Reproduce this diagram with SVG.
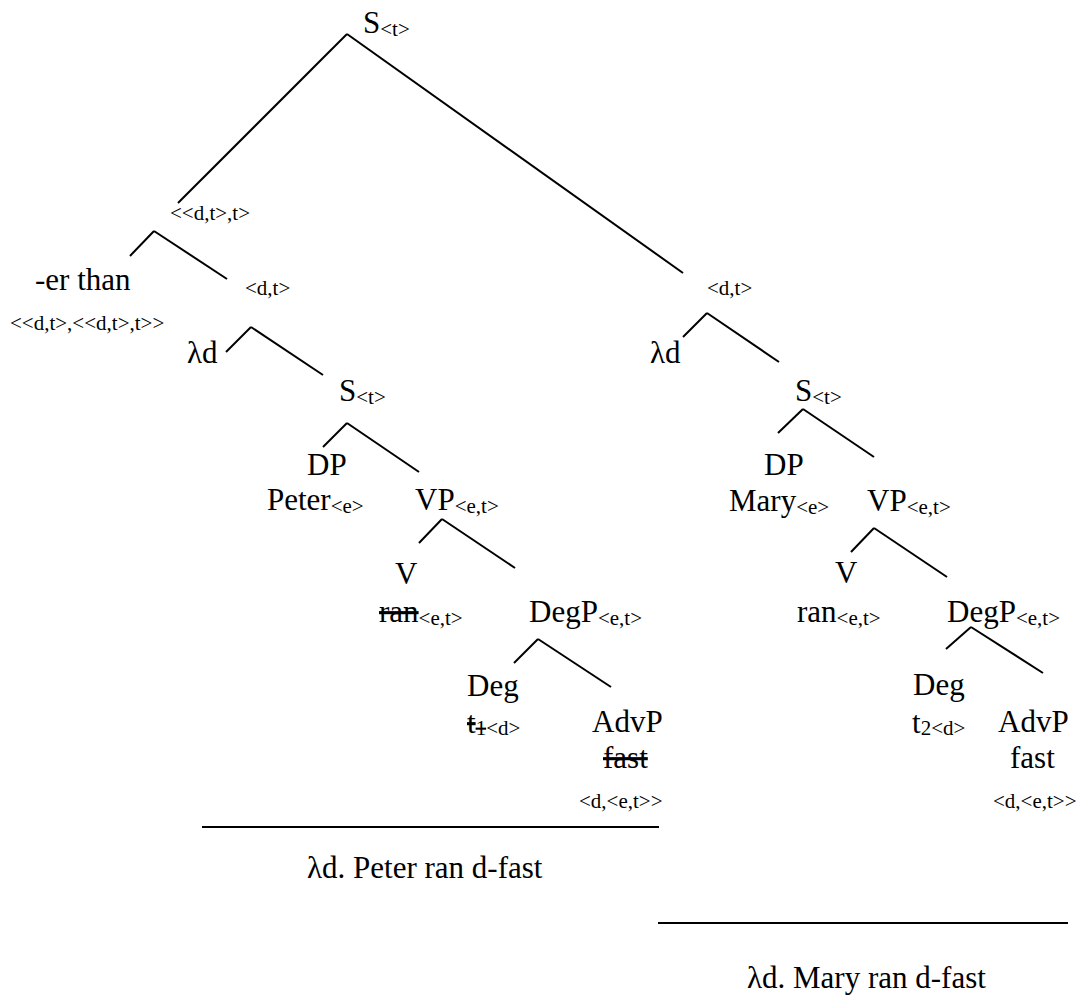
<svg xmlns="http://www.w3.org/2000/svg" width="1083" height="996" viewBox="0 0 1083 996">
<style>
text{font-family:"Liberation Serif","Times New Roman",serif;font-size:31px;fill:#000}
.s{font-size:21px}
.x{text-decoration:line-through}
.c line{stroke:#000;stroke-width:2;stroke-linecap:butt}
</style>
<rect width="1083" height="996" fill="#fff"/>
<g id="connectors" class="c">
<line x1="347" y1="34" x2="178" y2="203"/>
<line x1="347" y1="34" x2="683" y2="273"/>
<line x1="154" y1="231" x2="130" y2="256"/>
<line x1="154" y1="231" x2="227" y2="279"/>
<line x1="251" y1="327" x2="226" y2="352"/>
<line x1="251" y1="327" x2="323" y2="375"/>
<line x1="347" y1="423" x2="323" y2="447"/>
<line x1="347" y1="423" x2="419" y2="472"/>
<line x1="442" y1="519" x2="419" y2="543"/>
<line x1="442" y1="519" x2="515" y2="568"/>
<line x1="538" y1="639" x2="514" y2="663"/>
<line x1="538" y1="639" x2="611" y2="687"/>
<line x1="707" y1="313" x2="683" y2="337"/>
<line x1="707" y1="313" x2="779" y2="362"/>
<line x1="803" y1="409" x2="778" y2="433"/>
<line x1="803" y1="409" x2="874" y2="457"/>
<line x1="874" y1="528" x2="851" y2="552"/>
<line x1="874" y1="528" x2="947" y2="577"/>
<line x1="971" y1="627" x2="946" y2="649"/>
<line x1="971" y1="627" x2="1043" y2="673"/>
<line x1="202" y1="827" x2="659" y2="827"/>
<line x1="658" y1="923" x2="1068" y2="923"/>
</g>
<g id="n-root"><text x="363" y="33">S<tspan class="s" dy="3">&lt;t&gt;</tspan></text></g>
<g id="n-dtt"><text class="s" x="170" y="220">&lt;&lt;d,t&gt;,t&gt;</text></g>
<g id="n-erthan"><text x="35" y="290">-er than</text><text class="s" x="10" y="330">&lt;&lt;d,t&gt;,&lt;&lt;d,t&gt;,t&gt;&gt;</text></g>
<g id="n-dt-left"><text class="s" x="245" y="295">&lt;d,t&gt;</text></g>
<g id="n-lambda-left"><text x="187" y="363">λd</text></g>
<g id="n-s-left"><text x="339" y="401">S<tspan class="s" dy="3">&lt;t&gt;</tspan></text></g>
<g id="n-dp-left"><text x="307" y="475">DP</text><text x="267" y="510">Peter<tspan class="s" dy="3">&lt;e&gt;</tspan></text></g>
<g id="n-vp-left"><text x="415" y="510">VP<tspan class="s" dy="3">&lt;e,t&gt;</tspan></text></g>
<g id="n-v-left"><text x="395" y="584">V</text><text x="379" y="622"><tspan class="x">ran</tspan><tspan class="s" dy="3">&lt;e,t&gt;</tspan></text></g>
<g id="n-degp-left"><text x="529" y="622">DegP<tspan class="s" dy="3">&lt;e,t&gt;</tspan></text></g>
<g id="n-deg-left"><text x="467" y="696">Deg</text><text x="467" y="733"><tspan class="x">t</tspan><tspan class="s x" dy="2">1</tspan><tspan class="s">&lt;d&gt;</tspan></text></g>
<g id="n-advp-left"><text x="592" y="732">AdvP</text><text class="x" x="603" y="768">fast</text><text class="s" x="579" y="808">&lt;d,&lt;e,t&gt;&gt;</text></g>
<g id="n-result-left"><text x="307" y="878">λd. Peter ran d-fast</text></g>
<g id="n-dt-right"><text class="s" x="707" y="295">&lt;d,t&gt;</text></g>
<g id="n-lambda-right"><text x="650" y="363">λd</text></g>
<g id="n-s-right"><text x="795" y="401">S<tspan class="s" dy="3">&lt;t&gt;</tspan></text></g>
<g id="n-dp-right"><text x="764" y="475">DP</text><text x="729" y="511">Mary<tspan class="s" dy="3">&lt;e&gt;</tspan></text></g>
<g id="n-vp-right"><text x="867" y="511">VP<tspan class="s" dy="3">&lt;e,t&gt;</tspan></text></g>
<g id="n-v-right"><text x="835" y="583">V</text><text x="797" y="622">ran<tspan class="s" dy="3">&lt;e,t&gt;</tspan></text></g>
<g id="n-degp-right"><text x="947" y="622">DegP<tspan class="s" dy="3">&lt;e,t&gt;</tspan></text></g>
<g id="n-deg-right"><text x="913" y="695">Deg</text><text x="912" y="733">t<tspan class="s" dy="2">2</tspan><tspan class="s">&lt;d&gt;</tspan></text></g>
<g id="n-advp-right"><text x="998" y="732">AdvP</text><text x="1010" y="768">fast</text><text class="s" x="993" y="808">&lt;d,&lt;e,t&gt;&gt;</text></g>
<g id="n-result-right"><text x="747" y="988">λd. Mary ran d-fast</text></g>
</svg>
